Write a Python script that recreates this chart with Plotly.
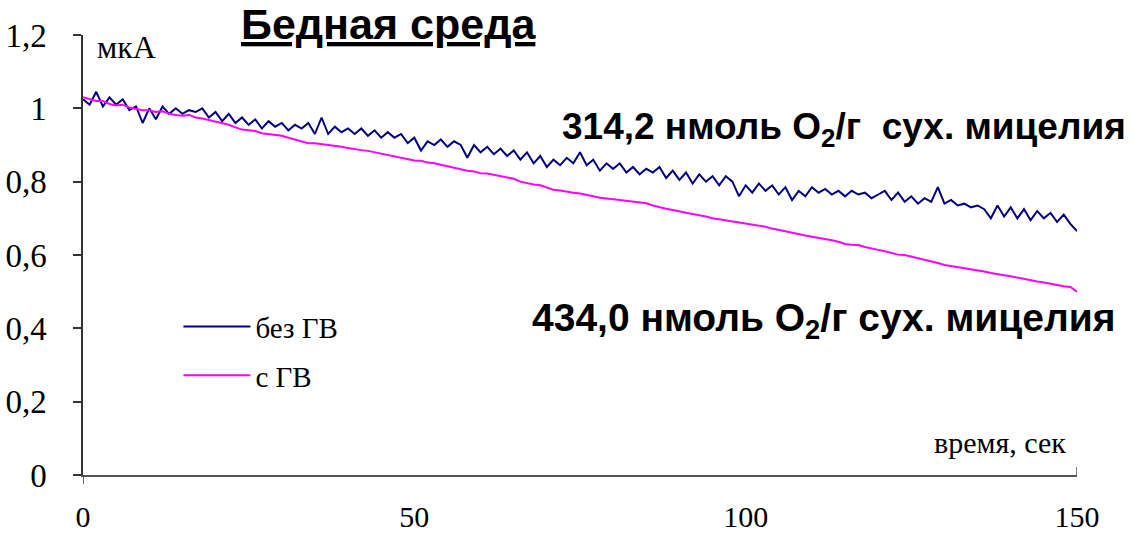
import plotly.graph_objects as go

# time axis, seconds (one reading per second)
time_s = list(range(0, 151))

# без ГВ (navy)
bez_gv = [
    1.025, 1.010, 1.045, 1.005, 1.030, 1.010, 1.025, 0.995, 1.005, 0.960,
    1.000, 0.970, 1.005, 0.985, 1.000, 0.985, 0.995, 0.990, 1.000, 0.975,
    0.990, 0.965, 0.985, 0.960, 0.975, 0.955, 0.970, 0.945, 0.965, 0.950,
    0.960, 0.940, 0.955, 0.945, 0.960, 0.930, 0.975, 0.930, 0.950, 0.935,
    0.945, 0.930, 0.945, 0.925, 0.940, 0.920, 0.935, 0.920, 0.930, 0.905,
    0.920, 0.885, 0.910, 0.900, 0.915, 0.895, 0.910, 0.900, 0.865, 0.900,
    0.880, 0.895, 0.875, 0.890, 0.870, 0.885, 0.860, 0.880, 0.850, 0.870,
    0.840, 0.860, 0.845, 0.865, 0.850, 0.880, 0.845, 0.860, 0.830, 0.850,
    0.835, 0.850, 0.825, 0.840, 0.820, 0.835, 0.825, 0.840, 0.810, 0.830,
    0.805, 0.825, 0.795, 0.820, 0.800, 0.815, 0.790, 0.815, 0.800, 0.760,
    0.790, 0.770, 0.795, 0.775, 0.790, 0.765, 0.785, 0.750, 0.775, 0.760,
    0.785, 0.770, 0.780, 0.765, 0.775, 0.760, 0.775, 0.765, 0.770, 0.755,
    0.765, 0.775, 0.750, 0.770, 0.745, 0.760, 0.740, 0.755, 0.745, 0.785,
    0.740, 0.750, 0.735, 0.740, 0.730, 0.735, 0.725, 0.700, 0.735, 0.705,
    0.730, 0.700, 0.725, 0.695, 0.720, 0.700, 0.715, 0.690, 0.710, 0.685,
    0.665,
]

# с ГВ (magenta)
s_gv = [
    1.030, 1.025, 1.020, 1.020, 1.012, 1.008, 1.010, 1.002, 0.998, 0.995,
    0.995, 0.990, 0.992, 0.985, 0.982, 0.980, 0.982, 0.975, 0.972, 0.968,
    0.965, 0.960, 0.955, 0.948, 0.942, 0.940, 0.938, 0.932, 0.930, 0.927,
    0.925, 0.920, 0.915, 0.910, 0.905, 0.905, 0.903, 0.900, 0.898, 0.895,
    0.892, 0.888, 0.886, 0.884, 0.880, 0.878, 0.872, 0.870, 0.866, 0.860,
    0.858, 0.857, 0.852, 0.850, 0.846, 0.840, 0.836, 0.833, 0.830, 0.828,
    0.823, 0.822, 0.818, 0.814, 0.811, 0.808, 0.800, 0.795, 0.792, 0.790,
    0.783, 0.778, 0.776, 0.772, 0.770, 0.768, 0.765, 0.760, 0.756, 0.755,
    0.752, 0.750, 0.748, 0.746, 0.744, 0.741, 0.735, 0.730, 0.726, 0.723,
    0.718, 0.715, 0.712, 0.709, 0.705, 0.700, 0.697, 0.695, 0.692, 0.689,
    0.687, 0.684, 0.680, 0.677, 0.672, 0.668, 0.665, 0.660, 0.655, 0.653,
    0.650, 0.647, 0.645, 0.640, 0.636, 0.630, 0.628, 0.627, 0.622, 0.617,
    0.614, 0.610, 0.605, 0.601, 0.600, 0.596, 0.592, 0.588, 0.584, 0.578,
    0.573, 0.570, 0.568, 0.566, 0.562, 0.559, 0.555, 0.551, 0.547, 0.545,
    0.542, 0.538, 0.536, 0.532, 0.528, 0.525, 0.521, 0.518, 0.515, 0.513,
    0.500,
]

y_tick_vals = [0, 0.2, 0.4, 0.6, 0.8, 1.0, 1.2]
y_tick_text = ["0", "0,2", "0,4", "0,6", "0,8", "1", "1,2"]
x_tick_vals = [0, 50, 100, 150]
x_tick_text = ["0", "50", "100", "150"]

SERIF = "Liberation Serif, Times New Roman, serif"
SANS = "Liberation Sans, Arial, sans-serif"

fig = go.Figure()
fig.add_trace(go.Scatter(x=time_s, y=bez_gv, mode="lines", name="без ГВ",
                         legendgroup="a",
                         line=dict(color="#000080", width=2)))
fig.add_trace(go.Scatter(x=time_s, y=s_gv, mode="lines", name="с ГВ",
                         legendgroup="b",
                         line=dict(color="#FF00FF", width=2)))

fig.update_layout(
    width=1133, height=537,
    margin=dict(l=83, r=56, t=35, b=62),
    paper_bgcolor="white", plot_bgcolor="white",
    showlegend=True,
    legend=dict(x=0.096, y=0.395, xanchor="left", yanchor="top",
                font=dict(family=SERIF, size=29, color="black"),
                bgcolor="rgba(255,255,255,0)", tracegroupgap=8,
                itemwidth=67),
    xaxis=dict(range=[0, 150], tickvals=x_tick_vals, ticktext=x_tick_text,
               showgrid=False, zeroline=False, showline=True,
               linecolor="#555555", linewidth=1.5, ticks="",
               ticklabelstandoff=14, automargin=False,
               tickfont=dict(family=SERIF, size=30, color="black")),
    yaxis=dict(range=[0, 1.2], tickvals=y_tick_vals, ticktext=y_tick_text,
               showgrid=False, zeroline=False, showline=True,
               linecolor="#333333", linewidth=1.5, ticks="outside",
               ticklen=8, tickcolor="#333333", tickwidth=1.5,
               ticklabelstandoff=20, automargin=False,
               tickfont=dict(family=SERIF, size=33, color="black")),
    shapes=[
        dict(type="line", xref="x", yref="paper", ysizemode="pixel",
             yanchor=0, x0=0, x1=0, y0=-9, y1=0,
             line=dict(color="#333333", width=1.5)),
        dict(type="line", xref="x", yref="paper", ysizemode="pixel",
             yanchor=0, x0=150, x1=150, y0=0, y1=8,
             line=dict(color="#555555", width=1.5)),
    ],
    annotations=[
        dict(text="<b><u>Бедная среда</u></b>", xref="paper", yref="paper",
             x=0.307, y=1.026, xanchor="center", yanchor="middle",
             showarrow=False, font=dict(family=SANS, size=43, color="black")),
        dict(text="мкА", xref="paper", yref="paper", x=0.012, y=0.973,
             xanchor="left", yanchor="middle", showarrow=False,
             font=dict(family=SERIF, size=32, color="black")),
        dict(text="время, сек", xref="paper", yref="paper", x=0.991, y=0.073,
             xanchor="right", yanchor="middle", showarrow=False,
             font=dict(family=SERIF, size=30, color="black")),
        dict(text="<b>314,2 нмоль O<sub>2</sub>/г\u00a0 сух. мицелия</b>",
             xref="paper", yref="paper", x=1.051, y=0.786,
             xanchor="right", yanchor="middle", showarrow=False,
             font=dict(family=SANS, size=37, color="black")),
        dict(text="<b>434,0 нмоль O<sub>2</sub>/г сух. мицелия</b>",
             xref="paper", yref="paper", x=1.040, y=0.351,
             xanchor="right", yanchor="middle", showarrow=False,
             font=dict(family=SANS, size=39, color="black")),
    ],
)

fig.write_html(
    "out.html",
    config={"displayModeBar": False},
    post_script="document.body.style.margin='0';document.body.style.padding='0';",
)
